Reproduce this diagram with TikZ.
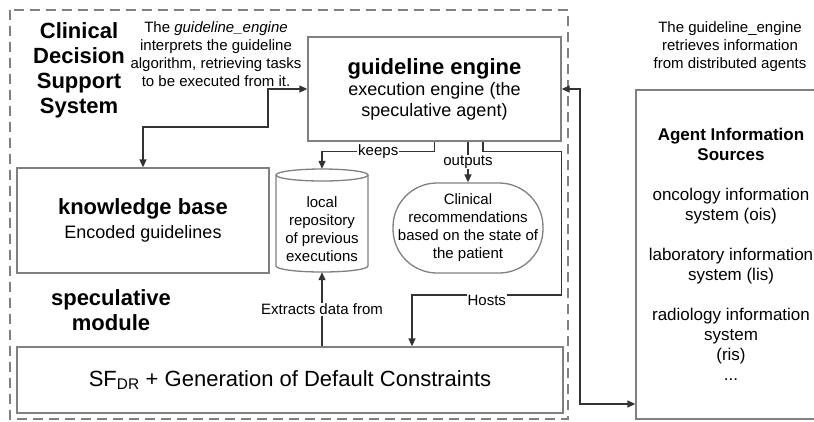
\documentclass[tikz,border=0pt]{standalone}
\usepackage{fontspec}
\setmainfont{Liberation Sans}
\usetikzlibrary{arrows.meta}

\definecolor{boxgray}{HTML}{808080}
\definecolor{linkgray}{HTML}{333333}

\tikzset{
  box/.style={draw=boxgray,line width=1.3pt,fill=white,inner sep=0pt,align=center,
    font=\fontsize{18}{21}\selectfont},
  repo/.style={minimum width=92,minimum height=103,inner sep=0pt},
  link/.style={draw=linkgray,line width=1.3pt},
  tag/.style={fill=white,inner sep=1pt,font=\fontsize{15}{18}\selectfont},
  note/.style={align=center,font=\fontsize{15}{18}\selectfont},
  head/.style={align=center,font=\bfseries\fontsize{22}{25}\selectfont}
}

\begin{document}
\begin{tikzpicture}[x=1pt,y=-1pt,>={Triangle[length=8pt,width=7pt]}]
  \useasboundingbox (0,0) rectangle (814,421);

  \draw[boxgray,line width=1.3pt,dash pattern=on 10pt off 6pt] (10,10) rectangle (568,419);

  \node[head] (cdss) at (79,70) {Clinical\\Decision\\Support\\System};
  \node[note] (interp) at (216,54) {The \textit{guideline\_engine}\\interprets the guideline\\algorithm, retrieving tasks\\to be executed from it.};
  \node[note] (retr) at (730,47) {The guideline\_engine\\retrieves information\\from distributed agents};
  \node[head] (spec) at (111,310) {speculative\\module};

  \node[box,minimum width=253,minimum height=104] (engine) at (434.5,89)
    {{\bfseries\fontsize{22}{24}\selectfont guideline engine}\\execution engine (the\\speculative agent)};
  \node[box,minimum width=252,minimum height=105] (kb) at (143,220.5)
    {{\bfseries\fontsize{22}{24}\selectfont knowledge base}\\[3pt]Encoded guidelines};

  \node[repo] (repo) at (322,220.5) {};
  \draw[boxgray,line width=1.3pt] (276,175) -- (276,266) arc (180:0:46 and 6) -- (368,175);
  \draw[boxgray,line width=1.3pt] (322,175) ellipse (46 and 6);
  \node[note] (repotext) at (322,229.5) {local\\repository\\of previous\\executions};

  \node[box,rounded corners=44,minimum width=150,minimum height=90,
    font=\fontsize{15}{18}\selectfont] (recs) at (468,228)
    {Clinical\\recommendations\\based on the state of\\the patient};
  \node[box,minimum width=546,minimum height=66,font=\fontsize{22}{26}\selectfont] (sf) at (290,380)
    {SF\textsubscript{DR} + Generation of Default Constraints};
  \node[box,minimum width=190,minimum height=329,font=\fontsize{17}{20}\selectfont] (agents) at (731,254.5)
    {\textbf{Agent Information}\\\textbf{Sources}\\[20pt]oncology information\\system (ois)\\[20pt]laboratory information\\system (lis)\\[20pt]radiology information\\system\\(ris)\\...};

  \coordinate (bend) at (580,404);

  \draw[link,<->] (kb.north) |- (268,127) |- (engine.west);
  \draw[link,<->] (engine.east) -| (bend) -- (bend -| agents.west);
  \draw[link,->] (engine.south) -- ++(0,10) -| node[tag,pos=0.25] {keeps} (repo.north);
  \draw[link,->] (engine.south -| recs.north) -- node[tag] {outputs} (recs.north);
  \draw[link,->] ([xshift=48.5]engine.south) -- ++(0,10) -| (engine.east |- 0,295)
    -| node[tag,pos=0.25,yshift=-5] {Hosts} ([xshift=122]sf.north);
  \draw[link,->] (sf.north -| repo.south) -- node[tag] {Extracts data from} (repo.south);
\end{tikzpicture}
\end{document}
